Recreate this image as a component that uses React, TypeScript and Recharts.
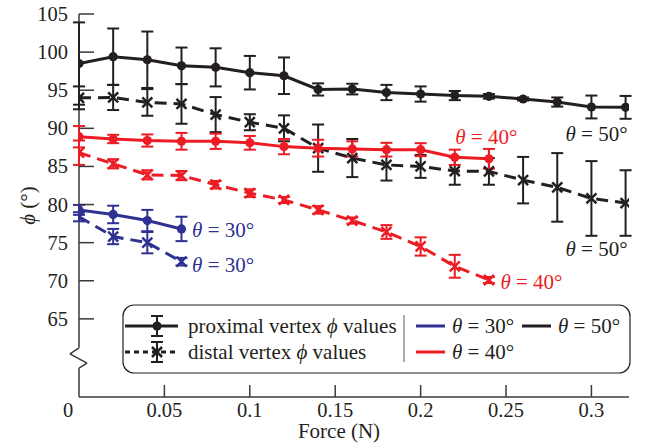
import React from 'react';
import { LineChart, Line, XAxis, YAxis, ErrorBar, ReferenceLine, ReferenceDot, Legend } from 'recharts';

// force values (N)
const FORCE_50 = [0, 0.02, 0.04, 0.06, 0.08, 0.1, 0.12, 0.14, 0.16, 0.18, 0.2, 0.22, 0.24, 0.26, 0.28, 0.3, 0.32];
const FORCE_40 = [0, 0.02, 0.04, 0.06, 0.08, 0.1, 0.12, 0.14, 0.16, 0.18, 0.2, 0.22, 0.24];
const FORCE_30 = [0, 0.02, 0.04, 0.06];

// phi values (deg) and error half-widths
const PROX_50 = [98.5, 99.4, 99.0, 98.2, 98.0, 97.3, 96.9, 95.1, 95.15, 94.7, 94.5, 94.3, 94.2, 93.85, 93.45, 92.8, 92.75];
const PROX_50_ERR = [5.4, 3.7, 3.7, 2.4, 2.5, 2.2, 2.4, 0.8, 0.7, 1.0, 1.0, 0.6, 0.3, 0.2, 0.6, 1.5, 1.5];
const DIST_50 = [94.0, 94.05, 93.4, 93.2, 91.8, 90.8, 90.0, 87.4, 86.1, 85.2, 85.0, 84.4, 84.35, 83.2, 82.25, 80.8, 80.2];
const DIST_50_ERR = [1.5, 1.65, 1.75, 2.6, 2.3, 1.05, 1.7, 3.1, 2.5, 2.05, 1.5, 1.8, 1.75, 3.05, 4.5, 4.9, 4.3];
const PROX_40 = [88.9, 88.6, 88.4, 88.3, 88.3, 88.1, 87.6, 87.4, 87.3, 87.2, 87.2, 86.2, 86.0];
const PROX_40_ERR = [1.4, 0.55, 0.8, 1.1, 1.0, 0.9, 1.0, 1.1, 1.0, 0.9, 0.85, 1.0, 1.3];
const DIST_40 = [86.8, 85.35, 83.9, 83.8, 82.6, 81.5, 80.6, 79.3, 77.9, 76.4, 74.5, 71.9, 70.1];
const DIST_40_ERR = [1.6, 0.6, 0.6, 0.6, 0.5, 0.5, 0.4, 0.5, 0.4, 0.9, 1.2, 1.5, 0.4];
const PROX_30 = [79.3, 78.7, 77.9, 76.8];
const PROX_30_ERR = [0.65, 1.15, 1.4, 1.6];
const DIST_30 = [78.4, 75.8, 75.0, 72.5];
const DIST_30_ERR = [0.6, 1.0, 1.4, 0.5];

const X_TICKS = [0, 0.05, 0.1, 0.15, 0.2, 0.25, 0.3];
const Y_TICKS = [65, 70, 75, 80, 85, 90, 95, 100, 105];

const BLACK = '#231f20';
const RED = '#ed1c24';
const BLUE = '#2e3192';
const AXIS = '#3a3a3a';
const SERIF = '"Liberation Serif", "Times New Roman", serif';

const Y_MIN = 54.75;
const X_MAX = 0.322;

// broken y axis: straight run, zigzag, straight run
const AXIS_PATH = [
  { x: 0, y: 105 },
  { x: 0, y: 61.2 },
  { x: -0.0053, y: 60.4 },
  { x: 0.0047, y: 59.2 },
  { x: 0, y: 58.55 },
  { x: 0, y: Y_MIN },
];

const NOTES = [
  { x: 0.0662, y: 76.6, deg: 30, color: BLUE },
  { x: 0.0662, y: 72.1, deg: 30, color: BLUE },
  { x: 0.2203, y: 88.9, deg: 40, color: RED },
  { x: 0.2467, y: 69.9, deg: 40, color: RED },
  { x: 0.2848, y: 89.3, deg: 50, color: BLACK },
  { x: 0.2848, y: 74.2, deg: 50, color: BLACK },
];

const toRows = (xs: number[], ys: number[], errs: number[]) =>
  xs.map((x, i) => ({ x, y: ys[i], err: errs[i] }));

const SERIES = [
  { id: 'd50', data: toRows(FORCE_50, DIST_50, DIST_50_ERR), color: BLACK, dashed: true },
  { id: 'p50', data: toRows(FORCE_50, PROX_50, PROX_50_ERR), color: BLACK, dashed: false },
  { id: 'd40', data: toRows(FORCE_40, DIST_40, DIST_40_ERR), color: RED, dashed: true },
  { id: 'p40', data: toRows(FORCE_40, PROX_40, PROX_40_ERR), color: RED, dashed: false },
  { id: 'd30', data: toRows(FORCE_30, DIST_30, DIST_30_ERR), color: BLUE, dashed: true },
  { id: 'p30', data: toRows(FORCE_30, PROX_30, PROX_30_ERR), color: BLUE, dashed: false },
];

const circleDot = (color: string) => (p: any) => (
  <circle key={`c-${p.index}`} cx={p.cx} cy={p.cy} r={4.6} fill={color} />
);

const crossDot = (color: string) => (p: any) => {
  const s = 5;
  return (
    <path
      key={`x-${p.index}`}
      d={`M${p.cx - s},${p.cy - s}L${p.cx + s},${p.cy + s}M${p.cx - s},${p.cy + s}L${p.cx + s},${p.cy - s}`}
      stroke={color}
      strokeWidth={2.5}
      fill="none"
    />
  );
};

const Theta = ({ deg }: { deg: number }) => (
  <>
    <tspan fontStyle="italic">θ</tspan>
    <tspan> = {deg}°</tspan>
  </>
);

const NoteLabel = (props: any) => {
  const { viewBox, deg, color } = props;
  return (
    <text x={viewBox.x} y={viewBox.y} fill={color} fontSize={21} fontFamily={SERIF} dominantBaseline="central">
      <Theta deg={deg} />
    </text>
  );
};

const YTick = (props: any) => {
  const { x, y, payload } = props;
  return (
    <g>
      <line x1={x} x2={x + 15} y1={y} y2={y} stroke={AXIS} strokeWidth={1.5} />
      <text x={x - 11} y={y} textAnchor="end" dominantBaseline="central" fontSize={20.5} fontFamily={SERIF} fill={BLACK}>
        {payload.value}
      </text>
    </g>
  );
};

const XTick = (props: any) => {
  const { x, y, payload } = props;
  const zero = payload.value === 0;
  return (
    <g>
      {!zero && <line x1={x} x2={x} y1={y} y2={y - 12} stroke={AXIS} strokeWidth={1.5} />}
      <text x={zero ? x - 11 : x} y={y + 13} textAnchor="middle" dominantBaseline="central" fontSize={20.5} fontFamily={SERIF} fill={BLACK}>
        {payload.value}
      </text>
    </g>
  );
};

const YTitle = (props: any) => {
  const vb = props.viewBox;
  const cx = vb.x + 28;
  const cy = vb.y + vb.height / 2;
  return (
    <text x={cx} y={cy} transform={`rotate(-90 ${cx} ${cy})`} textAnchor="middle" dominantBaseline="central" fontSize={21} fontFamily={SERIF} fill={BLACK}>
      <tspan fontStyle="italic">ϕ</tspan> (°)
    </text>
  );
};

const XTitle = (props: any) => {
  const vb = props.viewBox;
  return (
    <text x={vb.x + 260} y={vb.y + 34} textAnchor="middle" dominantBaseline="central" fontSize={21} fontFamily={SERIF} fill={BLACK}>
      Force (N)
    </text>
  );
};

const STYLE_ITEMS = [
  { text: 'proximal vertex', dashed: false },
  { text: 'distal vertex', dashed: true },
];
const THETA_ITEMS = [
  { deg: 30, color: BLUE, col: 0, row: 0 },
  { deg: 50, color: BLACK, col: 1, row: 0 },
  { deg: 40, color: RED, col: 0, row: 1 },
];

const LegendBox = () => {
  const rows = [22, 48];
  return (
    <svg width={509} height={70} style={{ display: 'block' }}>
      <rect x={1} y={1} width={507} height={68} rx={11} fill="#fff" stroke={BLACK} strokeWidth={1.2} />
      {STYLE_ITEMS.map((it, i) => {
        const y = rows[i];
        return (
          <g key={it.text}>
            <line x1={3} x2={56} y1={y} y2={y} stroke={BLACK} strokeWidth={3} strokeDasharray={it.dashed ? '5 4' : undefined} />
            <line x1={35} x2={35} y1={y - 10} y2={y + 10} stroke={BLACK} strokeWidth={2} />
            <line x1={29} x2={41} y1={y - 10} y2={y - 10} stroke={BLACK} strokeWidth={2} />
            <line x1={29} x2={41} y1={y + 10} y2={y + 10} stroke={BLACK} strokeWidth={2} />
            {it.dashed
              ? crossDot(BLACK)({ cx: 35, cy: y, index: i })
              : circleDot(BLACK)({ cx: 35, cy: y, index: i })}
            <text x={66} y={y} dominantBaseline="central" fontSize={21} fontFamily={SERIF} fill={BLACK}>
              {it.text} <tspan fontStyle="italic">ϕ</tspan> values
            </text>
          </g>
        );
      })}
      <line x1={282} x2={282} y1={11} y2={58} stroke="#777" strokeWidth={1.2} />
      {THETA_ITEMS.map((it) => {
        const x0 = it.col === 0 ? 294 : 400;
        const y = rows[it.row];
        return (
          <g key={it.deg}>
            <line x1={x0} x2={x0 + 29} y1={y} y2={y} stroke={it.color} strokeWidth={3} />
            <text x={x0 + 36} y={y} dominantBaseline="central" fontSize={21} fontFamily={SERIF} fill={BLACK}>
              <Theta deg={it.deg} />
            </text>
          </g>
        );
      })}
    </svg>
  );
};

export default function App() {
  return (
    <div style={{ position: 'absolute', left: 0, top: 0, width: 649, height: 443, background: '#fff' }}>
      <LineChart width={649} height={443} margin={{ top: 14, right: 20, bottom: 0, left: 0 }}>
        <XAxis
          type="number"
          dataKey="x"
          domain={[0, X_MAX]}
          ticks={X_TICKS}
          allowDataOverflow
          height={46}
          tickSize={0}
          tickMargin={0}
          tickLine={false}
          axisLine={{ stroke: AXIS, strokeWidth: 1.5 }}
          tick={<XTick />}
          label={<XTitle />}
        />
        <YAxis
          type="number"
          domain={[Y_MIN, 105]}
          ticks={Y_TICKS}
          allowDataOverflow
          width={79}
          tickSize={0}
          tickMargin={0}
          tickLine={false}
          axisLine={false}
          tick={<YTick />}
          label={<YTitle />}
        />
        {AXIS_PATH.slice(1).map((pt, i) => (
          <ReferenceLine
            key={`ax-${i}`}
            segment={[AXIS_PATH[i], pt]}
            stroke={AXIS}
            strokeWidth={1.5}
            ifOverflow="visible"
          />
        ))}
        {SERIES.map((s) => (
          <Line
            key={s.id}
            data={s.data}
            dataKey="y"
            stroke={s.color}
            strokeWidth={3}
            strokeDasharray={s.dashed ? '12 7' : undefined}
            dot={s.dashed ? crossDot(s.color) : circleDot(s.color)}
            activeDot={false}
            isAnimationActive={false}
          >
            <ErrorBar dataKey="err" direction="y" width={6} stroke={s.color} strokeWidth={2} isAnimationActive={false} />
          </Line>
        ))}
        {NOTES.map((n, i) => (
          <ReferenceDot
            key={`n-${i}`}
            x={n.x}
            y={n.y}
            r={0}
            fill="none"
            stroke="none"
            ifOverflow="visible"
            label={<NoteLabel deg={n.deg} color={n.color} />}
          />
        ))}
        <Legend
          verticalAlign="middle"
          content={<LegendBox />}
          wrapperStyle={{ position: 'absolute', left: 122, top: 304, width: 509, height: 70 }}
        />
      </LineChart>
    </div>
  );
}
